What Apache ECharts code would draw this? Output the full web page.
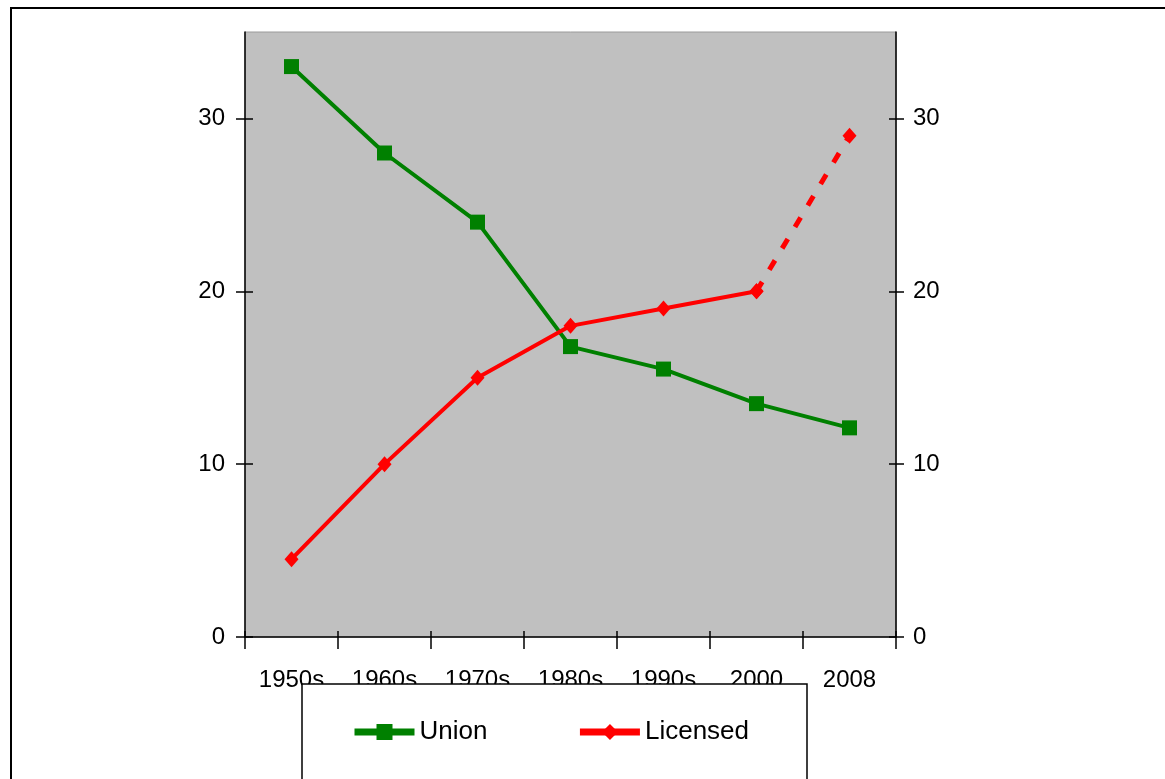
<!DOCTYPE html>
<html>
<head>
<meta charset="utf-8">
<script src="https://cdn.jsdelivr.net/npm/echarts@6/dist/echarts.min.js"></script>
<style>
  html, body { margin: 0; padding: 0; background: #fff; }
  #chart { width: 1165px; height: 779px; }
</style>
</head>
<body>
<div id="chart"></div>
<script>
// Decades on the category axis
const categories = ['1950s', '1960s', '1970s', '1980s', '1990s', '2000', '2008'];
// Union share per period
const unionValues = [33, 28, 24, 16.8, 15.5, 13.5, 12.1];
// Licensed share per period (last step drawn dashed)
const licensedValues = [4.5, 10, 15, 18, 19, 20, 29];
// Value axis range and labelled ticks
const yMin = 0, yMax = 35, yStep = 10;
const yTicks = [0, 10, 20, 30];

const FONT = "'Liberation Sans', Arial, sans-serif";

// Split Licensed into a solid run and a dashed last step
const lastIdx = licensedValues.length - 1;
const licensedSolid = licensedValues.map((v, i) => (i < lastIdx ? v : null));
const licensedDashed = licensedValues.map((v, i) => (i >= lastIdx - 1 ? v : null));

function valueAxis(position, showLabels, tickInside, tickLen, margin) {
  return {
    type: 'value',
    position: position,
    min: yMin, max: yMax, interval: yStep,
    axisLine: { show: showLabels, lineStyle: { color: '#000', width: 1.5 } },
    axisTick: { show: true, inside: tickInside, length: tickLen, customValues: yTicks,
                lineStyle: { color: '#000', width: 1.5 } },
    axisLabel: { show: showLabels, margin: margin, customValues: yTicks,
                 color: '#000', fontSize: 24, fontFamily: FONT },
    splitLine: { show: false }
  };
}

const chart = echarts.init(document.getElementById('chart'), null, { renderer: 'canvas' });
chart.setOption({
  animation: false,
  backgroundColor: '#fff',
  grid: {
    left: 245, right: 269, top: 32, bottom: 142,
    show: true, backgroundColor: '#c0c0c0', borderColor: '#9a9a9a', borderWidth: 1
  },
  xAxis: [
    {
      type: 'category', position: 'bottom', data: categories, boundaryGap: true,
      axisLine: { lineStyle: { color: '#000', width: 1.5 } },
      axisTick: { show: true, length: 12, interval: 0, lineStyle: { color: '#000', width: 1.5 } },
      axisLabel: { interval: 0, margin: 31, color: '#000', fontSize: 24, fontFamily: FONT }
    },
    {
      type: 'category', position: 'bottom', data: categories, boundaryGap: true,
      axisLine: { show: false },
      axisTick: { show: true, inside: true, length: 6, interval: 0, lineStyle: { color: '#000', width: 1.5 } },
      axisLabel: { show: false }
    }
  ],
  yAxis: [
    valueAxis('left', true, false, 9, 20),
    valueAxis('right', true, false, 8, 17),
    valueAxis('left', false, true, 8, 0),
    valueAxis('right', false, true, 7, 0)
  ],
  legend: {
    data: ['Union', 'Licensed'],
    left: 351, top: 719,
    padding: 0,
    z: 12,
    itemWidth: 60, itemHeight: 20, itemGap: 89,
    lineStyle: { width: 7 },
    textStyle: { color: '#000', fontSize: 26, fontFamily: FONT }
  },
  graphic: [
    {
      type: 'rect', z: 1, silent: true,
      shape: { x: 11, y: 8, width: 1300, height: 900 },
      style: { fill: null, stroke: '#000', lineWidth: 2 }
    },
    {
      type: 'rect', z: 10, silent: true,
      shape: { x: 302, y: 684, width: 505, height: 200 },
      style: { fill: '#fff', stroke: '#000', lineWidth: 1.5 }
    }
  ],
  series: [
    {
      name: 'Union', type: 'line', xAxisIndex: 0, yAxisIndex: 0,
      data: unionValues,
      symbol: 'rect', symbolSize: 15,
      itemStyle: { color: '#008000' },
      lineStyle: { color: '#008000', width: 4 },
      z: 3
    },
    {
      name: 'Licensed', type: 'line', xAxisIndex: 0, yAxisIndex: 0,
      data: licensedSolid,
      symbol: 'diamond', symbolSize: [14, 16],
      itemStyle: { color: '#ff0000' },
      lineStyle: { color: '#ff0000', width: 4 },
      z: 4
    },
    {
      name: 'Licensed', type: 'line', xAxisIndex: 0, yAxisIndex: 0,
      data: licensedDashed,
      symbol: 'diamond', symbolSize: [14, 16],
      itemStyle: { color: '#ff0000' },
      lineStyle: { color: '#ff0000', width: 5, type: [11, 14] },
      z: 4
    }
  ]
});
</script>
</body>
</html>
